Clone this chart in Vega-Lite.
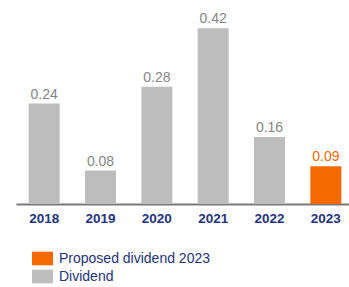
{
  "$schema": "https://vega.github.io/schema/vega-lite/v6.json",
  "width": 338,
  "height": 201,
  "autosize": {"type": "none"},
  "padding": {"left": 16, "top": 3, "right": 0, "bottom": 83},
  "background": "white",
  "config": {
    "view": {"stroke": null},
    "font": "Liberation Sans"
  },
  "data": {
    "values": [
      {"year": "2018", "value": 0.24, "type": "Dividend"},
      {"year": "2019", "value": 0.08, "type": "Dividend"},
      {"year": "2020", "value": 0.28, "type": "Dividend"},
      {"year": "2021", "value": 0.42, "type": "Dividend"},
      {"year": "2022", "value": 0.16, "type": "Dividend"},
      {"year": "2023", "value": 0.09, "type": "Proposed dividend 2023"}
    ]
  },
  "encoding": {
    "x": {
      "field": "year",
      "type": "nominal",
      "scale": {"paddingInner": 0.45, "paddingOuter": 0.225},
      "axis": {
        "title": null,
        "labelAngle": 0,
        "ticks": false,
        "domainColor": "#7a7a7a",
        "domainWidth": 2,
        "labelColor": "#24337a",
        "labelFontSize": 13.5,
        "labelFontWeight": "bold",
        "labelPadding": 7
      }
    },
    "y": {
      "field": "value",
      "type": "quantitative",
      "scale": {"domain": [0, 0.48]},
      "axis": null
    }
  },
  "layer": [
    {
      "mark": {"type": "bar"},
      "encoding": {
        "color": {
          "field": "type",
          "type": "nominal",
          "scale": {"domain": ["Proposed dividend 2023", "Dividend"], "range": ["#f56a00", "#bdbdbd"]},
          "legend": {
            "title": null,
            "orient": "none",
            "legendX": 16,
            "legendY": 245,
            "symbolType": "M-1,-0.65H1V0.65H-1Z",
            "symbolSize": 441,
            "symbolStrokeWidth": 0,
            "symbolOpacity": 1,
            "labelFontSize": 14,
            "labelColor": "#24337a",
            "labelOffset": 6,
            "rowPadding": 0
          }
        }
      }
    },
    {
      "mark": {"type": "text", "dy": -5, "fontSize": 14, "baseline": "alphabetic"},
      "encoding": {
        "text": {"field": "value", "type": "quantitative", "format": ".2f"},
        "color": {
          "condition": {"test": "datum.type == 'Dividend'", "value": "#858585"},
          "value": "#f56a00"
        }
      }
    }
  ]
}
